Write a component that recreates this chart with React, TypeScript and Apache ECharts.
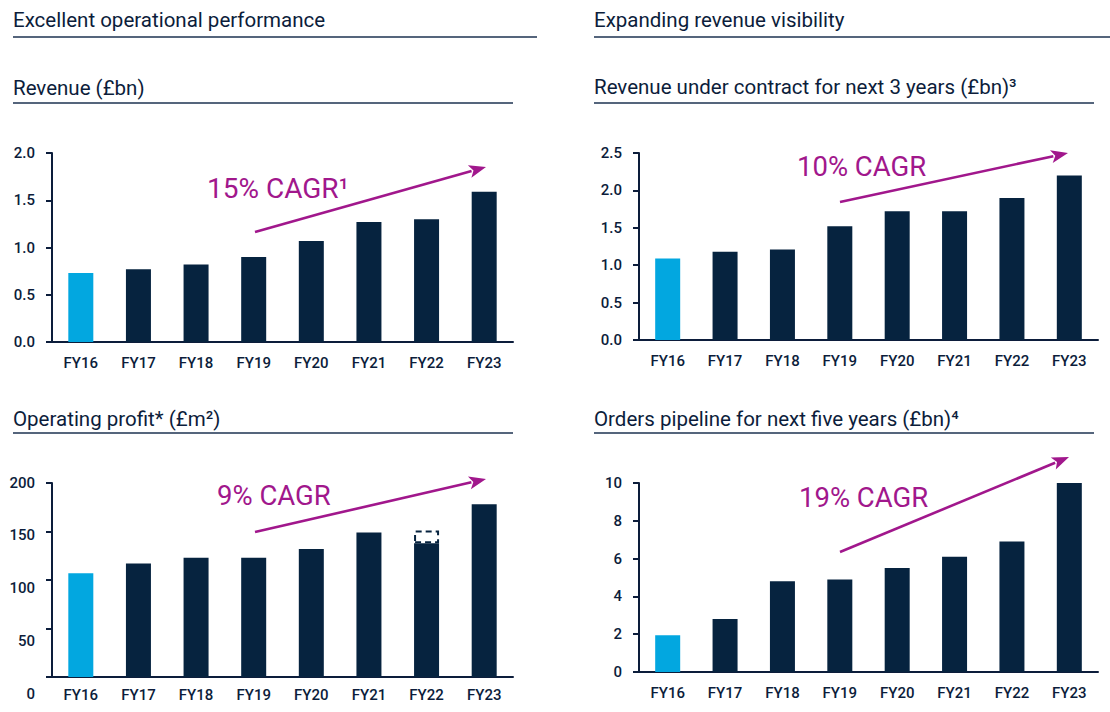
import React, { useEffect, useRef } from "react";
import * as echarts from "echarts";

const categories = ["FY16", "FY17", "FY18", "FY19", "FY20", "FY21", "FY22", "FY23"];
const revenue = [0.73, 0.77, 0.82, 0.9, 1.07, 1.27, 1.3, 1.59];
const revenueUnderContract = [1.09, 1.18, 1.21, 1.52, 1.72, 1.72, 1.9, 2.2];
const operatingProfit = [107, 117, 123, 123, 132, 149, 138, 178];
const operatingProfitRestated = [null, null, null, null, null, null, 13, null];
const ordersPipeline = [1.95, 2.8, 4.8, 4.9, 5.5, 6.1, 6.9, 10.0];

const headings = ["Excellent operational performance", "Expanding revenue visibility"];
const chartTitles = [
  "Revenue (£bn)",
  "Revenue under contract for next 3 years (£bn)³",
  "Operating profit* (£m²)",
  "Orders pipeline for next five years (£bn)⁴",
];
const cagrLabels = ["15% CAGR¹", "10% CAGR", "9% CAGR", "19% CAGR"];
// label vertical drift of the operating profit axis in the original
const profitLabelShift: Record<string, number> = { "200": 0, "150": 3, "100": 8, "50": 12.5, "0": 17 };

const NAVY = "#06233f";
const TEXT = "#0c1d3b";
const BLUE = "#02a7e0";
const PURPLE = "#a1178c";
const RULE = "#55657c";
const FONT = "Roboto, 'Noto Sans', sans-serif";

function colorFirst(values: (number | null)[]) {
  return values.map((v, i) => (i === 0 ? { value: v, itemStyle: { color: BLUE } } : v));
}

function arrow(x1: number, y1: number, x2: number, y2: number) {
  const dx = x2 - x1;
  const dy = y2 - y1;
  const len = Math.sqrt(dx * dx + dy * dy);
  const ux = dx / len;
  const uy = dy / len;
  const hl = 17;
  const hw = 6.5;
  const bx = x2 - ux * hl;
  const by = y2 - uy * hl;
  return [
    {
      type: "line",
      shape: { x1, y1, x2: bx + ux * 2, y2: by + uy * 2 },
      style: { stroke: PURPLE, lineWidth: 2.6 },
    },
    {
      type: "polygon",
      shape: {
        points: [
          [x2, y2],
          [bx - uy * hw, by + ux * hw],
          [bx + ux * 4, by + uy * 4],
          [bx + uy * hw, by - ux * hw],
        ],
      },
      style: { fill: PURPLE },
    },
  ];
}

function text(x: number, y: number, t: string, size: number, color: string, weight: any = "normal") {
  return {
    type: "text",
    x,
    y,
    style: {
      text: t,
      fill: color,
      fontSize: size,
      fontFamily: FONT,
      fontWeight: weight,
      textAlign: "left",
      textVerticalAlign: "middle",
      align: "left",
      verticalAlign: "middle",
    },
  };
}

function rule(x1: number, x2: number, y: number) {
  return {
    type: "line",
    shape: { x1, y1: y, x2, y2: y },
    style: { stroke: RULE, lineWidth: 2 },
  };
}

export default function App() {
  const ref = useRef<HTMLDivElement>(null);

  useEffect(() => {
    if (!ref.current) return;
    const chart = echarts.init(ref.current, undefined, { renderer: "svg" });

    const grids = [
      { left: 52, top: 153, width: 461, height: 189 },
      { left: 639, top: 153, width: 459, height: 187 },
      { left: 52, top: 483, width: 461, height: 194 },
      { left: 639, top: 483, width: 459, height: 189 },
    ];

    const axisLabelBase = {
      color: TEXT,
      fontFamily: FONT,
      fontSize: 15,
      fontWeight: 500,
    };

    const xAxes = grids.map((_, i) => ({
      type: "category",
      gridIndex: i,
      data: categories,
      axisLine: { show: true, lineStyle: { color: TEXT, width: 2 } },
      axisTick: { show: false },
      axisLabel: { ...axisLabelBase, margin: i === 2 ? 10 : 13 },
    }));

    const yCommon = (i: number) => ({
      type: "value",
      gridIndex: i,
      min: 0,
      splitLine: { show: false },
      axisLine: { show: true, lineStyle: { color: TEXT, width: 2 } },
      axisTick: { show: true, length: 6, lineStyle: { color: TEXT, width: 2 } },
    });

    const profitRich: Record<string, any> = {};
    Object.keys(profitLabelShift).forEach((k) => {
      profitRich["o" + k] = {
        ...axisLabelBase,
        padding: [profitLabelShift[k] * 2, 0, 0, 0],
      };
    });

    const yAxes = [
      {
        ...yCommon(0),
        max: 2.0,
        interval: 0.5,
        axisLabel: { ...axisLabelBase, margin: 17, formatter: (v: number) => v.toFixed(1) },
      },
      {
        ...yCommon(1),
        max: 2.5,
        interval: 0.5,
        axisLabel: { ...axisLabelBase, margin: 17, formatter: (v: number) => v.toFixed(1) },
      },
      {
        ...yCommon(2),
        max: 200,
        interval: 50,
        axisLabel: {
          ...axisLabelBase,
          margin: 17,
          formatter: (v: number) => `{o${v}|${v}}`,
          rich: profitRich,
        },
      },
      {
        ...yCommon(3),
        max: 10,
        interval: 2,
        axisLabel: { ...axisLabelBase, margin: 17 },
      },
    ];

    const barBase = {
      type: "bar",
      barWidth: 25,
      itemStyle: { color: NAVY },
      silent: true,
    };

    const series = [
      { ...barBase, xAxisIndex: 0, yAxisIndex: 0, data: colorFirst(revenue) },
      { ...barBase, xAxisIndex: 1, yAxisIndex: 1, data: colorFirst(revenueUnderContract) },
      { ...barBase, xAxisIndex: 2, yAxisIndex: 2, stack: "op", data: colorFirst(operatingProfit) },
      {
        ...barBase,
        xAxisIndex: 2,
        yAxisIndex: 2,
        stack: "op",
        data: operatingProfitRestated,
        itemStyle: {
          color: "#ffffff",
          borderColor: NAVY,
          borderWidth: 2,
          borderType: [6, 4],
        },
      },
      { ...barBase, xAxisIndex: 3, yAxisIndex: 3, data: colorFirst(ordersPipeline) },
    ];

    const TS = 20.5;
    const graphics: any[] = [
      text(13, 20, headings[0], TS, TEXT),
      rule(13, 537, 37),
      text(594, 20, headings[1], TS, TEXT),
      rule(594, 1110, 37),
      text(13, 88, chartTitles[0], TS, TEXT),
      rule(13, 513, 103),
      text(594, 87, chartTitles[1], TS, TEXT),
      rule(594, 1094, 103),
      text(13, 419, chartTitles[2], TS, TEXT),
      rule(13, 513, 433),
      text(594, 419, chartTitles[3], TS, TEXT),
      rule(594, 1094, 433),
      text(207, 188, cagrLabels[0], 28, PURPLE),
      text(797, 166, cagrLabels[1], 27.5, PURPLE),
      text(217, 495, cagrLabels[2], 27.5, PURPLE),
      text(799, 497, cagrLabels[3], 27.5, PURPLE),
      ...arrow(255, 232, 486, 167),
      ...arrow(840, 202, 1068, 153),
      ...arrow(255, 532, 486, 479),
      ...arrow(840, 552, 1069, 457),
    ];

    chart.setOption({
      animation: false,
      backgroundColor: "#ffffff",
      grid: grids,
      xAxis: xAxes,
      yAxis: yAxes,
      series,
      graphic: { elements: graphics },
    });

    return () => chart.dispose();
  }, []);

  return (
    <div
      ref={ref}
      style={{ position: "absolute", left: 0, top: 0, width: 1110, height: 712 }}
    />
  );
}
